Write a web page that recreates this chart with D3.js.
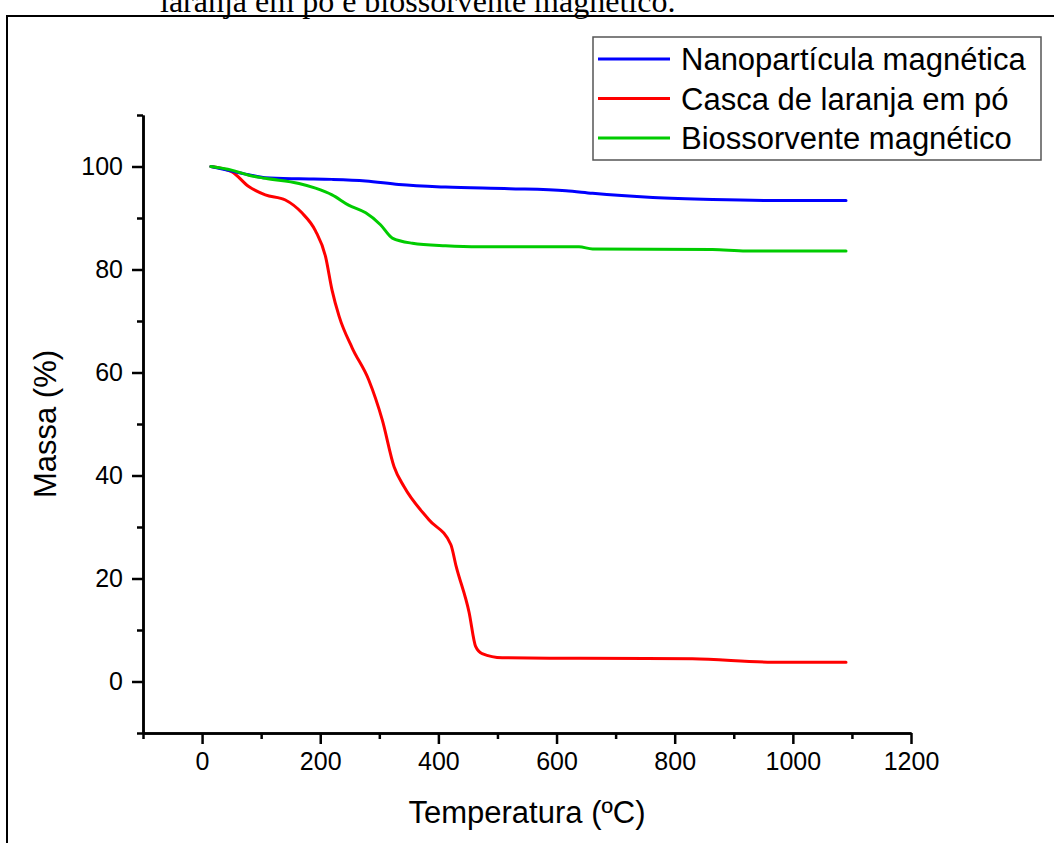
<!DOCTYPE html>
<html>
<head>
<meta charset="utf-8">
<script src="https://cdn.jsdelivr.net/npm/d3@7"></script>
<style>
  body { margin: 0; background: #fff; }
  svg { display: block; }
</style>
</head>
<body>
<svg id="chart" width="1054" height="843"></svg>
<script>
// données (température en °C, masse en %)
var nanoTemp = [15, 50, 79, 107, 164, 220, 277, 333, 412, 520, 616, 661, 763, 864, 977, 1090];
var nanoMass = [100, 99.1, 98.4, 97.8, 97.6, 97.5, 97.2, 96.5, 96.0, 95.7, 95.3, 94.8, 94.0, 93.6, 93.4, 93.4];

var cascaTemp = [15, 50, 79, 107, 141, 169, 192, 209, 220, 232, 254, 282, 305, 325, 342, 384, 421, 430, 452, 463, 474, 508, 640, 830, 966, 1090];
var cascaMass = [100, 99.0, 96.1, 94.5, 93.5, 91.0, 87.5, 82.5, 76.0, 70.9, 64.8, 58.6, 50.8, 41.7, 37.8, 31.4, 26.6, 22.4, 13.4, 6.8, 5.4, 4.6, 4.5, 4.4, 3.75, 3.75];

var bioTemp = [15, 50, 79, 107, 164, 192, 220, 248, 277, 302, 322, 356, 412, 469, 638, 661, 864, 921, 1090];
var bioMass = [100, 99.3, 98.3, 97.7, 96.7, 95.8, 94.5, 92.5, 91.0, 88.7, 86.1, 85.1, 84.6, 84.4, 84.4, 84.0, 83.9, 83.6, 83.6];

var seriesNames = ["Nanopartícula magnética", "Casca de laranja em pó", "Biossorvente magnético"];
var seriesColors = ["#0000ff", "#ff0000", "#00cc00"];

var xMajor = [0, 200, 400, 600, 800, 1000, 1200];
var xMinor = [-100, 100, 300, 500, 700, 900, 1100];
var yMajor = [0, 20, 40, 60, 80, 100];
var yMinor = [-10, 10, 30, 50, 70, 90, 110];

var font = "'Liberation Sans', Arial, sans-serif";
var svg = d3.select("#chart");

// texte du document coupé en haut
svg.append("text")
    .attr("x", 160)
    .attr("y", 12)
    .attr("font-family", "'Liberation Serif', 'Times New Roman', serif")
    .attr("font-size", 32)
    .attr("fill", "#000")
    .text("laranja em pó e biossorvente magnético.");

// cadre autour de la figure
svg.append("rect")
    .attr("x", 7).attr("y", 16)
    .attr("width", 1060).attr("height", 840)
    .attr("fill", "none")
    .attr("stroke", "#000")
    .attr("stroke-width", 2);

// échelles
var x = d3.scaleLinear().domain([-100, 1200]).range([143, 911]);
var y = d3.scaleLinear().domain([-10, 110]).range([733, 115]);

// axe x
var gx = svg.append("g").attr("transform", "translate(0,733)");
gx.call(d3.axisBottom(x).tickValues(xMajor).tickFormat(d3.format("d")).tickSize(11).tickSizeOuter(0).tickPadding(8));
var gxm = svg.append("g").attr("transform", "translate(0,733)");
gxm.call(d3.axisBottom(x).tickValues(xMinor).tickSize(6).tickSizeOuter(0).tickFormat(""));

// axe y
var gy = svg.append("g").attr("transform", "translate(143,0)");
gy.call(d3.axisLeft(y).tickValues(yMajor).tickFormat(d3.format("d")).tickSize(11).tickSizeOuter(0).tickPadding(9));
var gym = svg.append("g").attr("transform", "translate(143,0)");
gym.call(d3.axisLeft(y).tickValues(yMinor).tickSize(6).tickSizeOuter(0).tickFormat(""));

svg.selectAll(".domain").attr("stroke", "#000").attr("stroke-width", 2.5);
svg.selectAll(".tick line").attr("stroke", "#000").attr("stroke-width", 2.5);
svg.selectAll(".tick text")
    .attr("font-family", font)
    .attr("font-size", 25)
    .attr("fill", "#000");

// titres des axes
svg.append("text")
    .attr("x", 527)
    .attr("y", 823)
    .attr("text-anchor", "middle")
    .attr("font-family", font)
    .attr("font-size", 31)
    .text("Temperatura (ºC)");

svg.append("text")
    .attr("transform", "translate(56,424) rotate(-90)")
    .attr("text-anchor", "middle")
    .attr("font-family", font)
    .attr("font-size", 31)
    .text("Massa (%)");

// courbes
var series = [
    { name: seriesNames[0], color: seriesColors[0], temp: nanoTemp, mass: nanoMass },
    { name: seriesNames[1], color: seriesColors[1], temp: cascaTemp, mass: cascaMass },
    { name: seriesNames[2], color: seriesColors[2], temp: bioTemp, mass: bioMass }
];

var line = d3.line()
    .x(d => x(d[0]))
    .y(d => y(d[1]))
    .curve(d3.curveMonotoneX);

// ordre de dessin : rouge, bleu, vert dessus
[1, 0, 2].forEach(function(i) {
    var s = series[i];
    svg.append("path")
        .datum(s.temp.map((t, k) => [t, s.mass[k]]))
        .attr("fill", "none")
        .attr("stroke", s.color)
        .attr("stroke-width", 3)
        .attr("stroke-linejoin", "round")
        .attr("stroke-linecap", "round")
        .attr("d", line);
});

// légende
var legend = svg.append("g");
legend.append("rect")
    .attr("x", 593).attr("y", 37)
    .attr("width", 448).attr("height", 123)
    .attr("fill", "#fff")
    .attr("stroke", "#555")
    .attr("stroke-width", 1.5);

var rows = legend.selectAll("g.row")
    .data(series)
    .enter()
    .append("g")
    .attr("class", "row")
    .attr("transform", (d, i) => `translate(0, ${59 + i * 39.5})`);

rows.append("line")
    .attr("x1", 598).attr("x2", 670)
    .attr("y1", 0).attr("y2", 0)
    .attr("stroke", d => d.color)
    .attr("stroke-width", 3);

rows.append("text")
    .attr("x", 681)
    .attr("y", 0)
    .attr("dy", "0.36em")
    .attr("font-family", font)
    .attr("font-size", 31)
    .attr("fill", "#000")
    .text(d => d.name);
</script>
</body>
</html>
